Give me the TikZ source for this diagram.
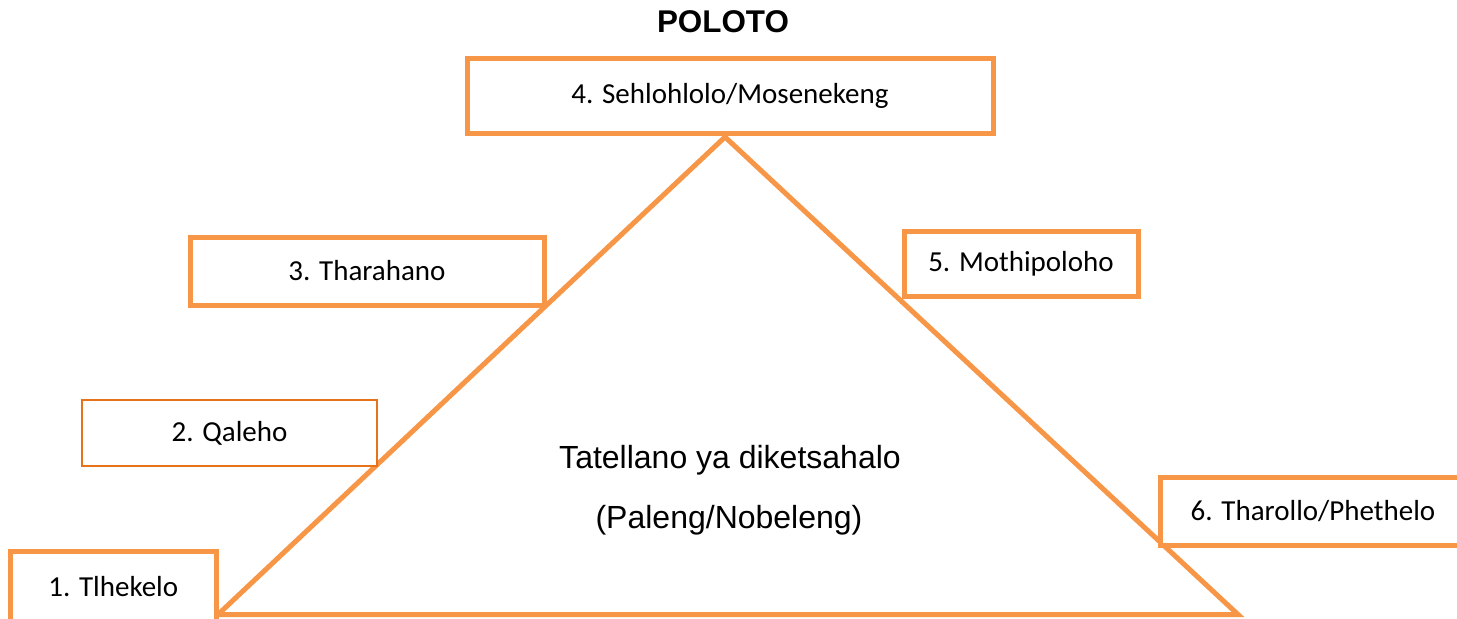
\documentclass[tikz,border=0pt]{standalone}
\usepackage{fontspec}
\setmainfont{Liberation Sans}
\newfontfamily\calibrifont{Carlito}
\definecolor{plotorange}{RGB}{247,150,70}
\definecolor{plotdeep}{RGB}{230,115,25}
\tikzset{%
  stage/.style={draw=plotorange, line width=2.5pt, fill=white, inner sep=0pt,
    font=\calibrifont\fontsize{14.5}{17}\selectfont},%
  thinstage/.style={stage, draw=plotdeep, line width=1pt},%
  arcline/.style={plotorange, line width=2.5pt},%
}

\begin{document}
\begin{tikzpicture}[x=0.5pt,y=-0.5pt]%
\useasboundingbox (0,0) rectangle (1457,618);%
\clip (0,0) rectangle (1457,618);%
\coordinate (apex) at (725,137);%
\coordinate (baseL) at (218,614.5);%
\coordinate (baseR) at (1238,614.5);%
\draw [arcline] (apex) -- (baseL) -- (baseR) -- cycle;%
\node [font=\bfseries\fontsize{15.7}{18}\selectfont] (poloto) at (723,22) {POLOTO};%
\node [stage, minimum width=263pt, minimum height=37.5pt] (sehlohlolo) at (730,95.5) {4. Sehlohlolo/Mosenekeng};%
\node [stage, minimum width=177pt, minimum height=34pt] (tharahano) at (367,271) {3. Tharahano};%
\node [stage, minimum width=117pt, minimum height=32.5pt] (mothipoloho) at (1021,263.5) {5. Mothipoloho};%
\node [thinstage, minimum width=147.5pt, minimum height=33pt] (qaleho) at (229.5,433) {2. Qaleho};%
\node [stage, minimum width=153pt, minimum height=34pt] (tharollo) at (1313,511) {6. Tharollo/Phethelo};%
\node [stage, minimum width=102.75pt, minimum height=36pt] (tlhekelo) at (113.25,587) {1. Tlhekelo};%
\node [anchor=base, font=\fontsize{16}{19}\selectfont] (tatellano) at (730,468) {Tatellano ya diketsahalo};%
\node [anchor=base, font=\fontsize{16}{19}\selectfont] (paleng) at (729,528) {(Paleng/Nobeleng)};%
\end{tikzpicture}
\end{document}
